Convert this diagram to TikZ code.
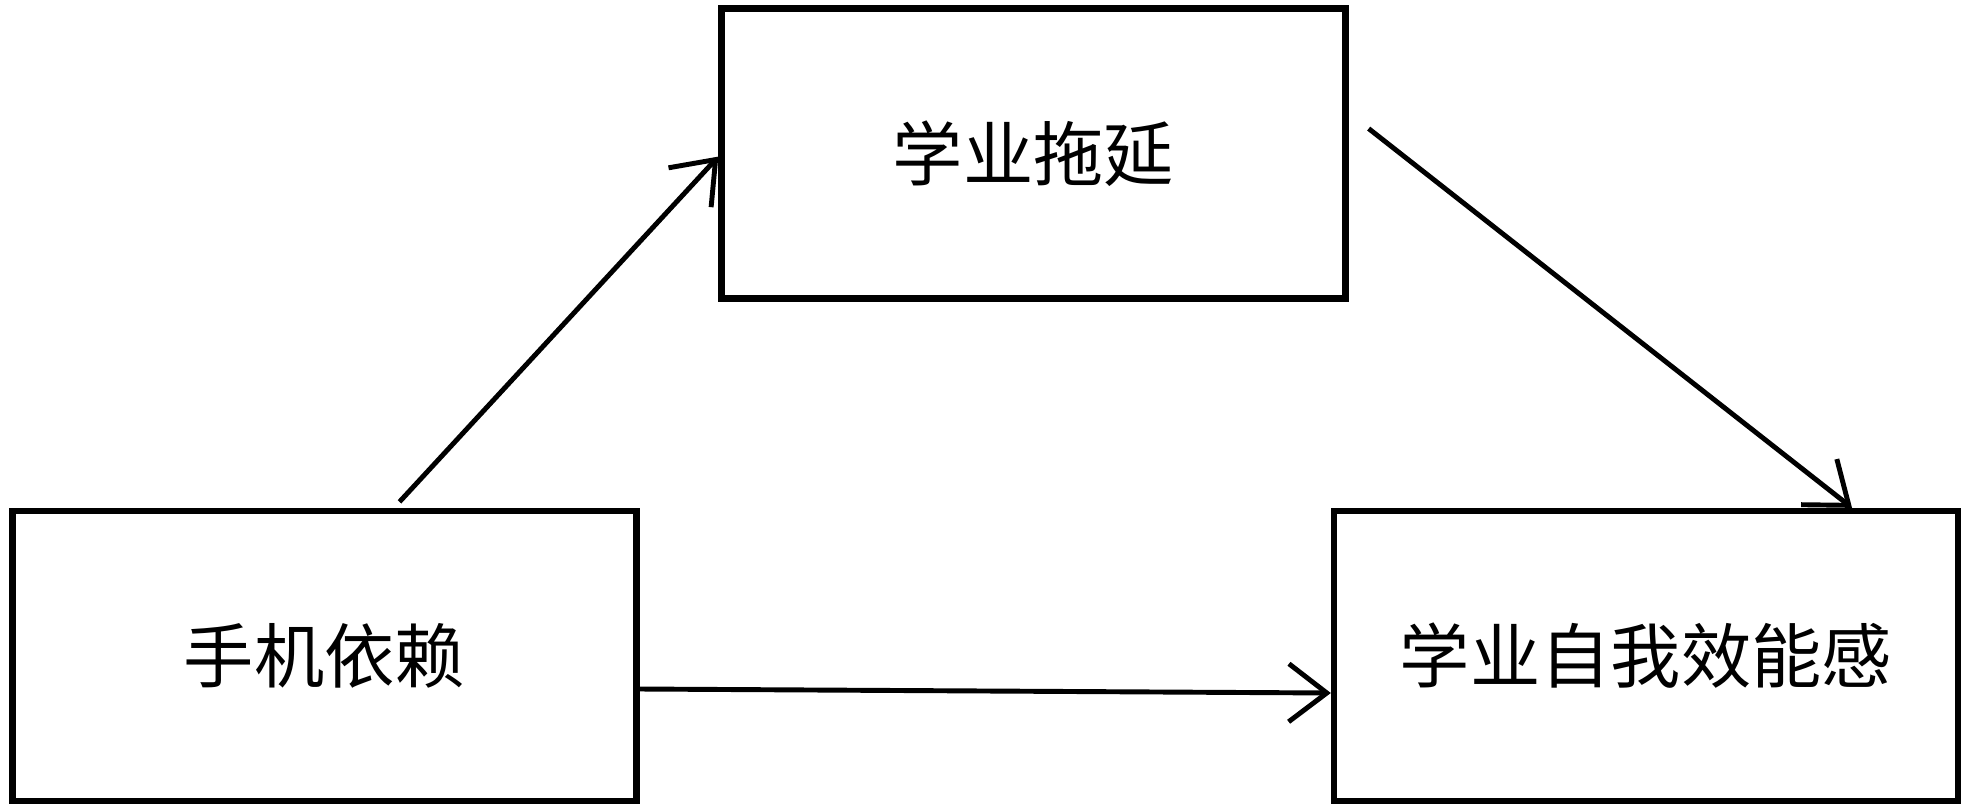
\documentclass[tikz,border=0pt]{standalone}
\usepackage{fontspec}
\newfontfamily\cjk{Noto Sans CJK SC}
\usepackage{tikz}
\usetikzlibrary{arrows.meta}
\usetikzlibrary{positioning}

\begin{document}
\begin{tikzpicture}[
    box/.style = {draw, line width=1.8pt, minimum width=6.24cm,
      minimum height=2.90cm, inner sep=0pt,
      font=\cjk\fontsize{20}{24}\selectfont},
    link/.style = {line width=1.4pt,
      -{Straight Barb[length=3.8mm,width=5.8mm,line width=1.4pt]}}]
    \useasboundingbox (0,0) rectangle (19.69,-8.11);
    \node[box] (T) at (10.335,-1.536) {学业拖延};
    \node[box] (L) at (3.245,-6.56) {手机依赖};
    \node[box] (R) at (16.46,-6.56) {学业自我效能感};
    % free ends of the arrows
    \coordinate (t1) at ([xshift=0.75cm,yshift=0.06cm]L.north);
    \coordinate (t2) at ([xshift=0.2cm,yshift=0.25cm]T.east);
    \coordinate (r1) at ([xshift=2.06cm]R.north);
    \coordinate (l1) at ([yshift=-0.33cm]L.east);
    \coordinate (r2) at ([yshift=-0.37cm]R.west);
    \draw[link] (t1) -- ([yshift=-0.03cm]T.west);
    \draw[link] (t2) -- (r1);
    \draw[link] (l1) -- (r2);
  \end{tikzpicture}
\end{document}
